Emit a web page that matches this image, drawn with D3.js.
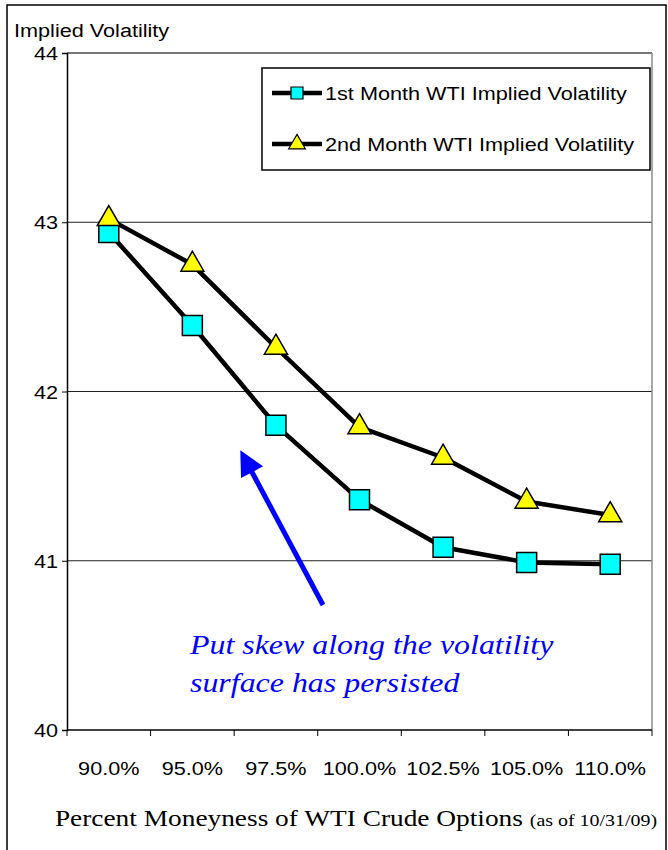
<!DOCTYPE html>
<html>
<head>
<meta charset="utf-8">
<script src="https://cdn.jsdelivr.net/npm/d3@7"></script>
<style>
  body { margin: 0; background: #fff; }
  svg { display: block; }
</style>
</head>
<body>
<div id="chart"></div>
<script>
const categories = ['90.0%', '95.0%', '97.5%', '100.0%', '102.5%', '105.0%', '110.0%'];
const firstMonth = [42.94, 42.39, 41.80, 41.36, 41.08, 40.99, 40.98];
const secondMonth = [43.02, 42.75, 42.26, 41.79, 41.61, 41.35, 41.27];
const yTicks = [40, 41, 42, 43, 44];
const seriesNames = ['1st Month WTI Implied Volatility', '2nd Month WTI Implied Volatility'];

const width = 668;
const height = 850;
const plot = { left: 67, right: 652, top: 53, bottom: 730 };
const stretch = 1.14; // text in the original is a bit wider than tall
const sans = "'Liberation Sans', Arial, sans-serif";
const serif = "'Liberation Serif', 'Times New Roman', serif";

const svg = d3.select('#chart').append('svg')
  .attr('width', width)
  .attr('height', height);

function place(sel, px, py) {
  return sel.attr('transform', `translate(${px},${py}) scale(${stretch},1)`);
}

// outer frame
svg.append('path')
  .attr('d', `M7,${height} V5 H666 V${height}`)
  .attr('fill', 'none')
  .attr('stroke', '#000')
  .attr('stroke-width', 1.5);

const x = d3.scaleBand()
  .domain(categories)
  .range([plot.left, plot.right]);

const y = d3.scaleLinear()
  .domain([40, 44])
  .range([plot.bottom, plot.top]);

// gridlines
svg.append('g')
  .selectAll('line')
  .data(yTicks.filter(d => d > 40))
  .join('line')
  .attr('x1', plot.left)
  .attr('x2', plot.right)
  .attr('y1', d => y(d))
  .attr('y2', d => y(d))
  .attr('stroke', d => (d === 44 ? '#777' : '#222'))
  .attr('stroke-width', d => (d === 44 ? 2 : 1));

// right border of plot
svg.append('line')
  .attr('x1', plot.right).attr('x2', plot.right)
  .attr('y1', plot.top).attr('y2', plot.bottom)
  .attr('stroke', '#888')
  .attr('stroke-width', 1.5);

// y axis
const yAxis = svg.append('g')
  .attr('transform', `translate(${plot.left},0)`)
  .call(d3.axisLeft(y).tickValues(yTicks).tickSize(5).tickFormat(d3.format('d')));
yAxis.select('.domain').attr('stroke', '#000').attr('stroke-width', 1.5);
yAxis.selectAll('.tick line').attr('stroke', '#000');
yAxis.selectAll('.tick text')
  .attr('x', 0)
  .attr('dy', '0.35em')
  .attr('transform', `translate(-9,0) scale(${stretch},1)`)
  .attr('font-family', sans)
  .attr('font-size', 19)
  .attr('fill', '#000');

// x axis: ticks between categories
const xAxis = svg.append('g')
  .attr('transform', `translate(0,${plot.bottom})`);
xAxis.append('line')
  .attr('x1', plot.left).attr('x2', plot.right)
  .attr('stroke', '#000').attr('stroke-width', 1.5);
xAxis.selectAll('.tk')
  .data(d3.range(categories.length + 1))
  .join('line')
  .attr('class', 'tk')
  .attr('x1', i => plot.left + i * x.step())
  .attr('x2', i => plot.left + i * x.step())
  .attr('y1', 0).attr('y2', 6)
  .attr('stroke', '#000');
xAxis.selectAll('text')
  .data(categories)
  .join('text')
  .each(function (d) { place(d3.select(this), x(d) + x.bandwidth() / 2, 45); })
  .attr('text-anchor', 'middle')
  .attr('font-family', sans)
  .attr('font-size', 19)
  .text(d => d);

// y axis title
place(svg.append('text'), 14, 37)
  .attr('font-family', sans)
  .attr('font-size', 19)
  .text('Implied Volatility');

// x axis title
const xTitle = place(svg.append('text'), 356, 826)
  .attr('text-anchor', 'middle')
  .attr('font-family', serif)
  .attr('font-size', 24);
xTitle.append('tspan').text('Percent Moneyness of WTI Crude Options ');
xTitle.append('tspan').attr('font-size', 17.5).text('(as of 10/31/09)');

// series
const line = d3.line()
  .x((d, i) => x(categories[i]) + x.bandwidth() / 2)
  .y(d => y(d));

[secondMonth, firstMonth].forEach(values => {
  svg.append('path')
    .datum(values)
    .attr('d', line)
    .attr('fill', 'none')
    .attr('stroke', '#000')
    .attr('stroke-width', 4.5)
    .attr('stroke-linejoin', 'round');
});

const squareSym = d3.symbol().type(d3.symbolSquare).size(400);
const triSym = d3.symbol().type(d3.symbolTriangle).size(230);

svg.append('g')
  .selectAll('path')
  .data(firstMonth)
  .join('path')
  .attr('d', squareSym)
  .attr('transform', (d, i) => `translate(${x(categories[i]) + x.bandwidth() / 2},${y(d)})`)
  .attr('fill', '#00ffff')
  .attr('stroke', '#000')
  .attr('stroke-width', 1.5);

svg.append('g')
  .selectAll('path')
  .data(secondMonth)
  .join('path')
  .attr('d', triSym)
  .attr('transform', (d, i) => `translate(${x(categories[i]) + x.bandwidth() / 2},${y(d)})`)
  .attr('fill', '#ffff00')
  .attr('stroke', '#000')
  .attr('stroke-width', 1.5);

// legend
const legend = svg.append('g').attr('transform', 'translate(262,68)');
legend.append('rect')
  .attr('width', 388)
  .attr('height', 102)
  .attr('fill', '#fff')
  .attr('stroke', '#000')
  .attr('stroke-width', 1.5);

const legendRows = legend.selectAll('.row')
  .data(seriesNames)
  .join('g')
  .attr('class', 'row')
  .attr('transform', (d, i) => `translate(0,${25 + i * 51})`);
legendRows.append('line')
  .attr('x1', 10).attr('x2', 60)
  .attr('stroke', '#000').attr('stroke-width', 4.5);
legendRows.append('path')
  .attr('d', (d, i) => (i === 0
    ? d3.symbol().type(d3.symbolSquare).size(144)()
    : d3.symbol().type(d3.symbolTriangle).size(120)()))
  .attr('transform', 'translate(35,0)')
  .attr('fill', (d, i) => (i === 0 ? '#00ffff' : '#ffff00'))
  .attr('stroke', '#000')
  .attr('stroke-width', 1.2);
legendRows.append('text')
  .attr('transform', `translate(63,7) scale(${stretch},1)`)
  .attr('font-family', sans)
  .attr('font-size', 19)
  .text(d => d);

// annotation arrow
svg.append('defs').append('marker')
  .attr('id', 'arrowhead')
  .attr('viewBox', '0 0 10 10')
  .attr('refX', 6).attr('refY', 5)
  .attr('markerWidth', 5.5).attr('markerHeight', 5)
  .attr('orient', 'auto')
  .append('path')
  .attr('d', 'M0,0 L10,5 L0,10 z')
  .attr('fill', '#0000ff');

svg.append('line')
  .attr('x1', 323).attr('y1', 605)
  .attr('x2', 245).attr('y2', 459)
  .attr('stroke', '#0000ff')
  .attr('stroke-width', 5)
  .attr('marker-end', 'url(#arrowhead)');

const note = place(svg.append('text'), 190, 0)
  .attr('font-family', serif)
  .attr('font-style', 'italic')
  .attr('font-size', 28)
  .attr('fill', '#0000ff');
note.append('tspan').attr('x', 0).attr('y', 654).text('Put skew along the volatility');
note.append('tspan').attr('x', 0).attr('y', 692).text('surface has persisted');
</script>
</body>
</html>
